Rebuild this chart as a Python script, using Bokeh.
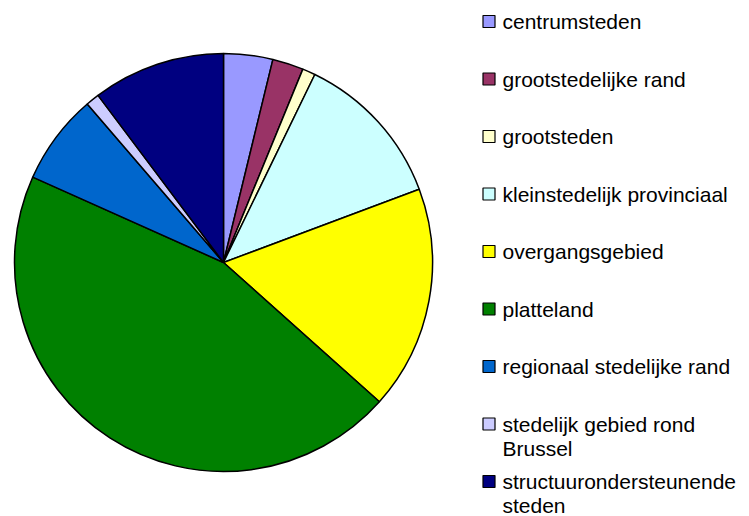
import math
import textwrap
import numpy as np
from bokeh.plotting import figure
from bokeh.models import Range1d, ColumnDataSource
from bokeh.core.properties import value
from bokeh.embed import file_html
from bokeh.resources import INLINE

# ---- data (percentages) ----
categories = [
    "centrumsteden",
    "grootstedelijke rand",
    "grootsteden",
    "kleinstedelijk provinciaal",
    "overgangsgebied",
    "platteland",
    "regionaal stedelijke rand",
    "stedelijk gebied rond Brussel",
    "structuurondersteunende steden",
]
shares = [3.8, 2.4, 1.0, 12.1, 17.3, 45.1, 7.0, 1.05, 10.25]
colors = ["#9999FF", "#993366", "#FFFFCC", "#CCFFFF", "#FFFF00",
          "#008000", "#0066CC", "#CCCCFF", "#000080"]

W, H = 749, 516
p = figure(width=W, height=H, output_backend="svg", toolbar_location=None,
           x_range=Range1d(0, W), y_range=Range1d(0, H),
           min_border=0, border_fill_color="white", background_fill_color="white")
p.axis.visible = False
p.grid.visible = False
p.outline_line_color = None

def py(page_y):
    # picture pixel (from top) to data y
    return H - page_y

def px(page_x):
    return page_x

# ---- pie ----
vals = np.array(shares, dtype=float)
frac = vals / vals.sum()
cum = np.concatenate([[0.0], np.cumsum(frac)])
start = math.pi / 2 - cum[:-1] * 2 * math.pi
end = math.pi / 2 - cum[1:] * 2 * math.pi
src = ColumnDataSource(dict(start=start, end=end, color=colors))
p.wedge(x=px(223), y=py(262), radius=209, start_angle="start", end_angle="end",
        direction="clock", fill_color="color", line_color="black", line_width=1.5,
        source=src)

# ---- legend ----
step = 57.5
first = 21
lx, ly, lt = [], [], []
sq_y = []
for i, name in enumerate(categories):
    cy = first + step * i
    sq_y.append(py(cy))
    lines = textwrap.wrap(name, width=26)
    for j, ln in enumerate(lines):
        lx.append(px(502))
        ly.append(py(cy + 24 * j))
        lt.append(ln)

p.rect(x=[px(488.5)] * len(categories), y=sq_y, width=12, height=12,
       width_units="screen", height_units="screen",
       fill_color=colors, line_color="black", line_width=1.2)
p.text(x=lx, y=ly, text=lt, text_font=value("Liberation Sans"),
       text_font_size="21px", text_align="left", text_baseline="middle",
       text_color="black")

open("out.html", "w").write(file_html(p, INLINE))
